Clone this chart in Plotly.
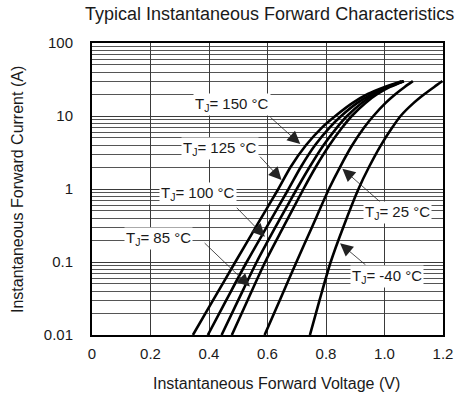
import numpy as np
import plotly.graph_objects as go

# Forward current sample levels (A)
current_pts = [0.01, 0.03, 0.1, 0.3, 1, 2, 4, 7, 10, 15, 20, 25, 30]

# Forward voltage (V) read at those currents, per junction temperature
v_150 = [0.345, 0.414, 0.490, 0.560, 0.637, 0.679, 0.732, 0.787, 0.832, 0.890, 0.943, 1.001, 1.058]
v_125 = [0.396, 0.459, 0.529, 0.597, 0.672, 0.714, 0.763, 0.813, 0.852, 0.906, 0.957, 1.008, 1.064]
v_100 = [0.443, 0.500, 0.563, 0.627, 0.700, 0.744, 0.792, 0.838, 0.872, 0.921, 0.966, 1.013, 1.066]
v_85 = [0.478, 0.532, 0.592, 0.654, 0.723, 0.765, 0.812, 0.856, 0.888, 0.934, 0.976, 1.019, 1.066]
v_25 = [0.590, 0.642, 0.699, 0.752, 0.810, 0.848, 0.890, 0.931, 0.962, 1.003, 1.038, 1.069, 1.097]
v_m40 = [0.745, 0.778, 0.816, 0.859, 0.911, 0.947, 0.988, 1.027, 1.055, 1.099, 1.137, 1.170, 1.198]

series = [v_150, v_125, v_100, v_85, v_25, v_m40]

labels = ["T<sub>J</sub>= 150 °C", "T<sub>J</sub>= 125 °C", "T<sub>J</sub>= 100 °C",
          "T<sub>J</sub>= 85 °C", "T<sub>J</sub>= 25 °C", "T<sub>J</sub>= -40 °C"]
# label centres (V, A)
label_v = [0.478, 0.438, 0.363, 0.229, 1.044, 1.007]
label_i = [14.6, 3.6, 0.87, 0.21, 0.48, 0.064]
# arrow tails and tips (V, A)
tail_v = [0.605, 0.57, 0.49, 0.38, 0.99, 0.94]
tail_i = [10.0, 2.9, 0.58, 0.19, 0.64, 0.088]
tip_v = [0.712, 0.648, 0.591, 0.54, 0.856, 0.848]
tip_i = [4.13, 1.33, 0.222, 0.046, 1.9, 0.18]

x_ticks = [0, 0.2, 0.4, 0.6, 0.8, 1.0, 1.2]
x_ticktext = ["0", "0.2", "0.4", "0.6", "0.8", "1.0", "1.2"]
y_ticks = [0.01, 0.1, 1, 10, 100]
y_ticktext = ["0.01", "0.1", "1", "10", "100"]
y_minor = [m * d for d in [0.01, 0.1, 1, 10] for m in range(2, 10)]

FONT = "Liberation Sans, Arial, sans-serif"
TXT = "#1a1a1a"

fig = go.Figure()
for v in series:
    fig.add_trace(go.Scatter(x=v, y=current_pts, mode="lines",
                             line=dict(color="black", width=2.6, shape="spline", smoothing=0.8),
                             showlegend=False, hoverinfo="skip"))

for k in range(len(labels)):
    fig.add_annotation(x=tip_v[k], y=np.log10(tip_i[k]), ax=tail_v[k], ay=np.log10(tail_i[k]),
                       axref="x", ayref="y", xref="x", yref="y", text="", showarrow=True,
                       arrowhead=2, arrowsize=3.2, arrowwidth=0.8, arrowcolor="#222")
    fig.add_annotation(x=label_v[k], y=np.log10(label_i[k]), xref="x", yref="y",
                       text=labels[k], showarrow=False, bgcolor="white",
                       font=dict(family=FONT, size=15, color=TXT), borderpad=1)

# chart title (left edge at 83 px, centre line 14 px from top)
fig.add_annotation(x=(83 - 92) / 351, y=1 + (43 - 14) / 292, xref="paper", yref="paper",
                   text="Typical Instantaneous Forward Characteristics", showarrow=False,
                   xanchor="left", yanchor="middle",
                   font=dict(family=FONT, size=18, color=TXT))
# axis titles
fig.add_annotation(x=(276 - 92) / 351, y=(335 - 383) / 292, xref="paper", yref="paper",
                   text="Instantaneous Forward Voltage (V)", showarrow=False,
                   xanchor="center", yanchor="middle",
                   font=dict(family=FONT, size=16, color=TXT))
fig.add_annotation(x=(17 - 92) / 351, y=(335 - 190) / 292, xref="paper", yref="paper",
                   text="Instantaneous Forward Current (A)", showarrow=False, textangle=-90,
                   xanchor="center", yanchor="middle",
                   font=dict(family=FONT, size=16, color=TXT))

fig.update_xaxes(range=[0, 1.2], tickvals=x_ticks, ticktext=x_ticktext,
                 showgrid=True, gridcolor="#3a3a3a", gridwidth=1,
                 showline=True, linecolor="black", linewidth=2, mirror=True,
                 ticks="outside", ticklen=4, tickcolor="rgba(0,0,0,0)", zeroline=False,
                 automargin=False,
                 tickfont=dict(family=FONT, size=15, color=TXT))
fig.update_yaxes(type="log", range=[-2, 2], tickvals=y_ticks, ticktext=y_ticktext,
                 showgrid=True, gridcolor="#3a3a3a", gridwidth=1,
                 minor=dict(tickvals=y_minor, showgrid=True, gridcolor="#555", gridwidth=0.8, ticks=""),
                 showline=True, linecolor="black", linewidth=2, mirror=True,
                 ticks="outside", ticklen=14, tickcolor="rgba(0,0,0,0)", zeroline=False,
                 automargin=False,
                 tickfont=dict(family=FONT, size=15, color=TXT))

fig.update_layout(width=458, height=396, margin=dict(l=92, r=15, t=43, b=61),
                  plot_bgcolor="white", paper_bgcolor="white", showlegend=False)

fig.write_html("out.html")
